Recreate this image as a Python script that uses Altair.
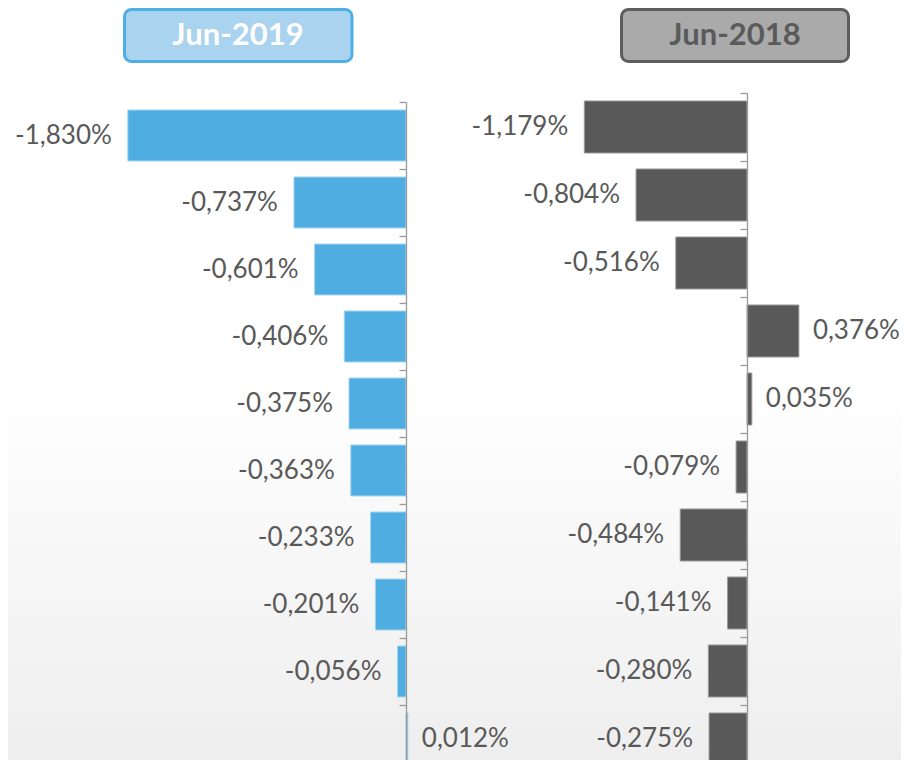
import altair as alt
import pandas as pd

# ---- data ----
rank = list(range(1, 11))
jun2019 = [-1.830, -0.737, -0.601, -0.406, -0.375, -0.363, -0.233, -0.201, -0.056, 0.012]
jun2018 = [-1.179, -0.804, -0.516, 0.376, 0.035, -0.079, -0.484, -0.141, -0.280, -0.275]
headers = ["Jun-2019", "Jun-2018"]

W, H = 893, 752
FONT = "Lato"
LABEL_COLOR = "#595959"

label_expr = "(datum.v < 0 ? '-' : '') + replace(format(abs(datum.v), '.3f'), '.', ',') + '%'"


def panel(values, color, stroke, x_range, y_range, axis_offset, band):
    df = pd.DataFrame({"rank": rank, "v": values})
    base = alt.Chart(df).transform_calculate(label=label_expr)
    y = alt.Y(
        "rank:O",
        sort=rank,
        scale=alt.Scale(range=y_range, paddingInner=0, paddingOuter=0),
        axis=alt.Axis(
            orient="left", offset=axis_offset, labels=False, title=None,
            domainColor="#9a9a9a", tickColor="#9a9a9a", tickSize=7,
            bandPosition=0, grid=False, domainWidth=1.3, tickWidth=1.3,
            zindex=1,
        ),
    )
    x = alt.X("v:Q", scale=alt.Scale(domain=[-2, 1], range=x_range, nice=False, zero=False), axis=None)
    bars = base.mark_bar(
        color=color, stroke=stroke, strokeWidth=1,
        height=alt.RelativeBandSize(band=band),
    ).encode(x=x, x2=alt.datum(0), y=y)
    neg = base.transform_filter("datum.v < 0").mark_text(
        align="right", baseline="middle", dx=-16, font=FONT, fontSize=26, color=LABEL_COLOR
    ).encode(x=x, y=y, text="label:N")
    pos = base.transform_filter("datum.v >= 0").mark_text(
        align="left", baseline="middle", dx=14, font=FONT, fontSize=26, color=LABEL_COLOR
    ).encode(x=x, y=y, text="label:N")
    return alt.layer(bars, neg, pos)


left = panel(jun2019, "#50ade2", "#9fd3f0", [94, 550], [94, 764], -398, 0.76)
right = panel(jun2018, "#595959", "#9a9a9a", [463, 877], [85, 765], -739, 0.765)

one = pd.DataFrame({"a": [0]})
bg = alt.Chart(one).mark_rect(
    fill=alt.Gradient(
        gradient="linear",
        stops=[
            alt.GradientStop(color="#ffffff", offset=0),
            alt.GradientStop(color="#ffffff", offset=0.5),
            alt.GradientStop(color="#eeeeee", offset=1),
        ],
        x1=0, x2=0, y1=0, y2=1,
    )
).encode(x=alt.value(0), x2=alt.value(W), y=alt.value(0), y2=alt.value(H))

box1 = alt.Chart(one).mark_rect(
    fill="#a9d3ee", stroke="#4faee4", strokeWidth=3, cornerRadius=7
).encode(x=alt.value(116.5), x2=alt.value(344), y=alt.value(1.5), y2=alt.value(53.5))
txt1 = alt.Chart(pd.DataFrame({"h": [headers[0]]})).mark_text(
    font=FONT, fontSize=31, fontWeight="bold", color="#ffffff", align="center", baseline="middle"
).encode(x=alt.value(230), y=alt.value(28), text="h:N")

box2 = alt.Chart(one).mark_rect(
    fill="#aaaaaa", stroke="#5e5e5e", strokeWidth=3, cornerRadius=7
).encode(x=alt.value(613.5), x2=alt.value(840.5), y=alt.value(1.5), y2=alt.value(53.5))
txt2 = alt.Chart(pd.DataFrame({"h": [headers[1]]})).mark_text(
    font=FONT, fontSize=31, fontWeight="bold", color="#5a5a5a", align="center", baseline="middle"
).encode(x=alt.value(727), y=alt.value(28), text="h:N")

chart = alt.layer(bg, box1, txt1, box2, txt2, left, right).resolve_scale(
    x="independent", y="independent"
).properties(
    width=W, height=H, padding=0,
    autosize=alt.AutoSizeParams(type="none"),
    background="#ffffff",
).configure_view(stroke=None)

chart.save("out.html", embed_options={"renderer": "svg", "actions": False})
